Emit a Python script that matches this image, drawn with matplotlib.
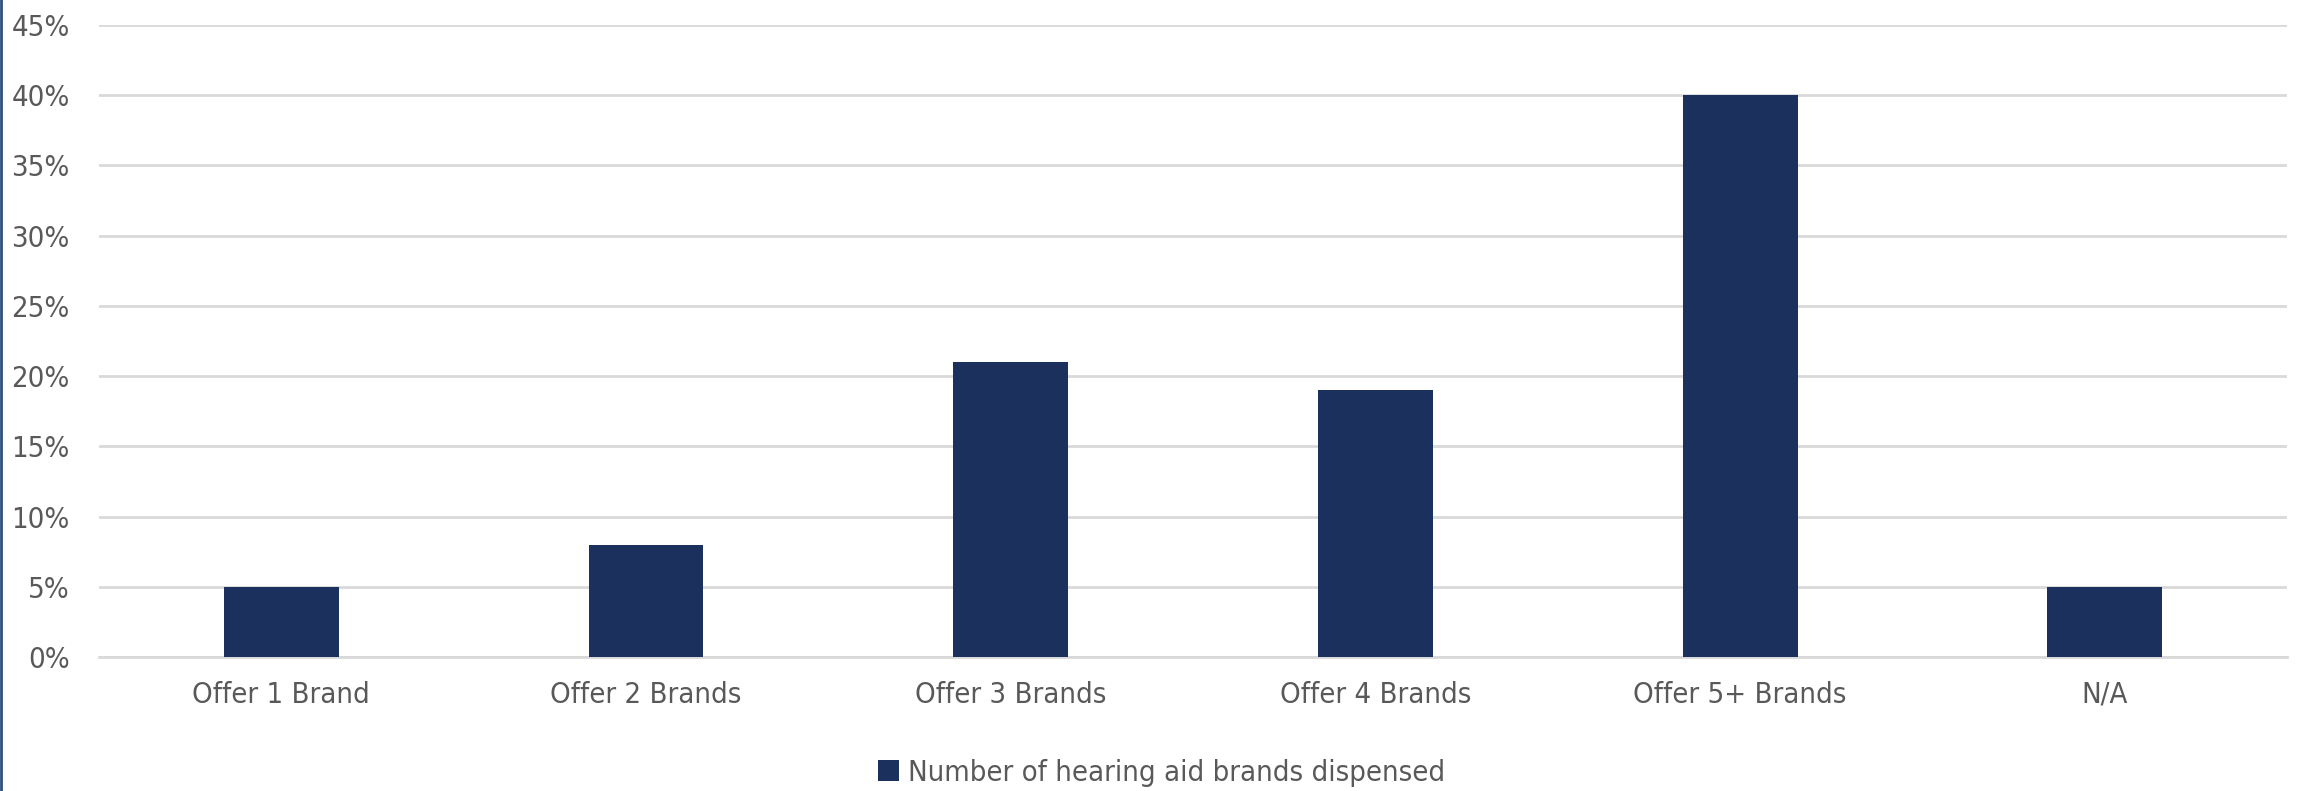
import matplotlib.pyplot as plt
from matplotlib.lines import Line2D
from matplotlib.patches import Patch
from matplotlib.ticker import PercentFormatter

plt.rcParams['font.family'] = 'DejaVu Sans'
plt.rcParams['font.stretch'] = 'condensed'

categories = ['Offer 1 Brand', 'Offer 2 Brands', 'Offer 3 Brands',
              'Offer 4 Brands', 'Offer 5+ Brands', 'N/A']
shares = [5, 8, 21, 19, 40, 5]
series_name = 'Number of hearing aid brands dispensed'
yticks = [0, 5, 10, 15, 20, 25, 30, 35, 40, 45]

bar_color = '#1B305D'
text_color = '#595959'
grid_color = '#D9D9D9'

fig = plt.figure(figsize=(23, 7.91), dpi=100)
ax = fig.add_axes([0.043, 0.1694, 0.9514, 0.799])

x = range(len(categories))
ax.bar(x, shares, width=0.315, color=bar_color, zorder=3)

ax.set_xlim(-0.5, len(categories) - 0.5)
ax.set_ylim(0, 45)
ax.set_yticks(yticks)
ax.yaxis.set_major_formatter(PercentFormatter(decimals=0))
ax.set_xticks(list(x))
ax.set_xticklabels(categories)

ax.grid(axis='y', color=grid_color, linewidth=2, zorder=0)
for side in ['top', 'right', 'left']:
    ax.spines[side].set_visible(False)
ax.spines['bottom'].set_color(grid_color)
ax.spines['bottom'].set_linewidth(2)
ax.spines['bottom'].set_zorder(1)

ax.tick_params(axis='y', length=0, pad=21, labelsize=21, labelcolor=text_color)
ax.tick_params(axis='x', length=0, pad=17, labelsize=21, labelcolor=text_color)

handle = Patch(facecolor=bar_color, edgecolor='none')
fig.legend([handle], [series_name], loc='center', bbox_to_anchor=(0.505, 0.023),
           frameon=False, fontsize=21, labelcolor=text_color,
           handlelength=0.7, handleheight=0.7, handletextpad=0.3)

# thin dark rule down the left edge
fig.add_artist(Line2D([0.0004, 0.0004], [0, 1], transform=fig.transFigure,
                      color='#2F4F80', linewidth=2))

fig.savefig('out.png', dpi=100)
